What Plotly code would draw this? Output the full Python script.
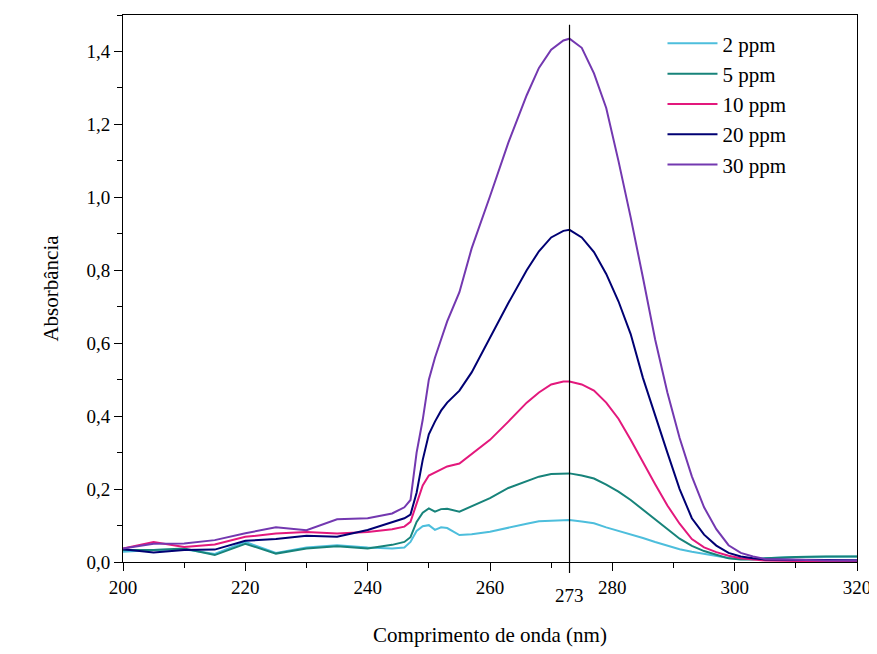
import plotly.graph_objects as go

wavelength = [200, 205, 210, 215, 220, 225, 230, 235, 240, 244, 246, 247, 248, 249, 250,
              251, 252, 253, 255, 257, 260, 263, 266, 268, 270, 272, 273, 275, 277, 279,
              281, 283, 285, 287, 289, 291, 293, 295, 297, 299, 301, 303, 305, 310, 315, 320]

ppm2 = [0.028, 0.033, 0.035, 0.022, 0.055, 0.025, 0.040, 0.046, 0.040, 0.037, 0.040, 0.055, 0.085, 0.098, 0.101,
        0.088, 0.095, 0.093, 0.074, 0.076, 0.083, 0.095, 0.105, 0.112, 0.114, 0.115, 0.115, 0.111, 0.106, 0.095,
        0.086, 0.076, 0.066, 0.055, 0.045, 0.035, 0.028, 0.022, 0.016, 0.011, 0.008, 0.008, 0.010, 0.014, 0.015, 0.015]

ppm5 = [0.033, 0.033, 0.037, 0.019, 0.050, 0.023, 0.037, 0.043, 0.037, 0.047, 0.055, 0.068, 0.110, 0.135, 0.147,
        0.138, 0.145, 0.146, 0.138, 0.152, 0.175, 0.203, 0.222, 0.234, 0.241, 0.243, 0.243, 0.237, 0.229, 0.212,
        0.193, 0.170, 0.144, 0.117, 0.090, 0.064, 0.044, 0.030, 0.020, 0.010, 0.007, 0.007, 0.010, 0.014, 0.015, 0.015]

ppm10 = [0.037, 0.055, 0.041, 0.048, 0.069, 0.078, 0.082, 0.078, 0.082, 0.090, 0.097, 0.110, 0.160, 0.210, 0.237,
         0.245, 0.255, 0.262, 0.270, 0.295, 0.335, 0.385, 0.437, 0.465, 0.487, 0.495, 0.495, 0.487, 0.470, 0.437,
         0.393, 0.335, 0.273, 0.213, 0.155, 0.105, 0.063, 0.040, 0.027, 0.017, 0.010, 0.006, 0.004, 0.003, 0.003, 0.003]

ppm20 = [0.035, 0.026, 0.033, 0.034, 0.058, 0.063, 0.072, 0.069, 0.088, 0.108, 0.120, 0.130, 0.190, 0.280, 0.350,
         0.385, 0.415, 0.437, 0.470, 0.520, 0.615, 0.710, 0.800, 0.852, 0.890, 0.908, 0.911, 0.890, 0.850, 0.790,
         0.715, 0.625, 0.505, 0.400, 0.300, 0.200, 0.120, 0.075, 0.045, 0.025, 0.015, 0.010, 0.007, 0.006, 0.005, 0.005]

ppm30 = [0.037, 0.050, 0.051, 0.060, 0.079, 0.095, 0.087, 0.117, 0.120, 0.133, 0.150, 0.170, 0.300, 0.390, 0.500,
         0.560, 0.610, 0.660, 0.740, 0.860, 1.003, 1.150, 1.280, 1.355, 1.405, 1.430, 1.435, 1.410, 1.340, 1.245,
         1.100, 0.945, 0.780, 0.610, 0.465, 0.340, 0.235, 0.150, 0.090, 0.046, 0.025, 0.015, 0.008, 0.005, 0.004, 0.004]

series_names = ["2 ppm", "5 ppm", "10 ppm", "20 ppm", "30 ppm"]
series_values = [ppm2, ppm5, ppm10, ppm20, ppm30]
series_colors = ["#4DBEDC", "#17837A", "#E3187C", "#000073", "#7338B0"]

peak_wavelength = 273
x_ticks = [200, 220, 240, 260, 280, 300, 320]
y_ticks = [0.0, 0.2, 0.4, 0.6, 0.8, 1.0, 1.2, 1.4]

FONT = "Liberation Serif, DejaVu Serif, Times New Roman, serif"

fig = go.Figure()
for name, vals, col in zip(series_names, series_values, series_colors):
    fig.add_trace(go.Scatter(x=wavelength, y=vals, name=name, mode="lines",
                             line=dict(color=col, width=2)))

fig.add_shape(type="line", xref="x", yref="paper", x0=peak_wavelength, x1=peak_wavelength,
              y0=-0.02, y1=0.982, line=dict(color="black", width=1.2))
fig.add_annotation(x=peak_wavelength, xref="x", y=-0.062, yref="paper", text=str(peak_wavelength),
                   showarrow=False, font=dict(family=FONT, size=19, color="black"),
                   xanchor="center", yanchor="middle")

axis_common = dict(showline=True, linecolor="black", linewidth=1, mirror=True,
                   ticks="outside", ticklen=8, tickcolor="black", showgrid=False, zeroline=False,
                   tickfont=dict(family=FONT, size=19, color="black"))

fig.update_xaxes(range=[200, 320], tickvals=x_ticks, ticktext=[str(v) for v in x_ticks],
                 minor=dict(ticks="outside", ticklen=5, tickcolor="black", dtick=10, tick0=200),
                 title=dict(text="Comprimento de onda (nm)", font=dict(family=FONT, size=21, color="black"),
                            standoff=30),
                 **axis_common)
fig.update_yaxes(range=[0, 1.5], tickvals=y_ticks, tickformat=".1f",
                 minor=dict(ticks="outside", ticklen=5, tickcolor="black", dtick=0.1, tick0=0),
                 title=dict(text="Absorbância", font=dict(family=FONT, size=21, color="black"),
                            standoff=22),
                 **axis_common)

fig.update_layout(
    width=869, height=646,
    margin=dict(l=115, r=20, t=7, b=92),
    paper_bgcolor="white", plot_bgcolor="white",
    separators=",.",
    font=dict(family=FONT, color="black"),
    legend=dict(x=0.735, y=0.985, xanchor="left", yanchor="top",
                bgcolor="rgba(0,0,0,0)", font=dict(family=FONT, size=21, color="black"),
                itemwidth=50, tracegroupgap=0),
    showlegend=True,
)

fig.write_html("out.html")
